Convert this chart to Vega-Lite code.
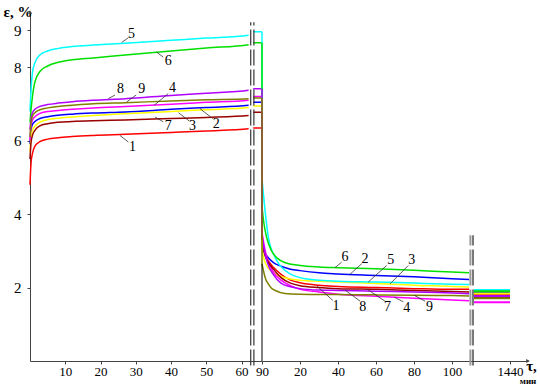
{
 "$schema": "https://vega.github.io/schema/vega-lite/v6.json",
 "width": 500, "height": 349,
 "autosize": "none",
 "padding": {"left": 30, "top": 12, "right": 10, "bottom": 25},
 "background": "white",
 "config": {
  "view": {"stroke": null},
  "axis": {"labelFont": "Liberation Serif", "labelFontSize": 13, "labelColor": "#000", "domainColor": "#444", "tickColor": "#444", "tickSize": 3, "labelPadding": 1, "grid": false, "titleFont": "Liberation Serif", "titleColor": "#000"}
 },
 "datasets": {
  "load": [
   {"s":"1","t":0,"e":4.8},{"s":"1","t":0.3,"e":5.4},{"s":"1","t":0.7,"e":5.65},{"s":"1","t":1.4,"e":5.85},{"s":"1","t":2.8,"e":5.97},{"s":"1","t":5,"e":6.04},{"s":"1","t":8,"e":6.08},{"s":"1","t":12,"e":6.11},{"s":"1","t":18,"e":6.14},{"s":"1","t":27,"e":6.17},{"s":"1","t":40,"e":6.22},{"s":"1","t":50,"e":6.26},{"s":"1","t":62,"e":6.32},{"s":"1","t":63.3,"e":6.34},{"s":"1","t":65.8,"e":6.34},
   {"s":"2","t":0,"e":5.9},{"s":"2","t":0.3,"e":6.3},{"s":"2","t":0.7,"e":6.44},{"s":"2","t":1.4,"e":6.52},{"s":"2","t":2.8,"e":6.6},{"s":"2","t":5,"e":6.65},{"s":"2","t":8,"e":6.69},{"s":"2","t":12,"e":6.72},{"s":"2","t":18,"e":6.75},{"s":"2","t":27,"e":6.78},{"s":"2","t":40,"e":6.85},{"s":"2","t":50,"e":6.9},{"s":"2","t":62,"e":6.96},{"s":"2","t":63.3,"e":7.04},{"s":"2","t":65.8,"e":7.04},
   {"s":"3","t":0,"e":5.7},{"s":"3","t":0.3,"e":6.1},{"s":"3","t":0.7,"e":6.28},{"s":"3","t":1.4,"e":6.39},{"s":"3","t":2.8,"e":6.5},{"s":"3","t":5,"e":6.57},{"s":"3","t":8,"e":6.61},{"s":"3","t":12,"e":6.64},{"s":"3","t":18,"e":6.68},{"s":"3","t":27,"e":6.73},{"s":"3","t":40,"e":6.79},{"s":"3","t":50,"e":6.84},{"s":"3","t":62,"e":6.9},{"s":"3","t":63.3,"e":6.94},{"s":"3","t":65.8,"e":6.94},
   {"s":"4","t":0,"e":6.0},{"s":"4","t":0.3,"e":6.4},{"s":"4","t":0.7,"e":6.56},{"s":"4","t":1.4,"e":6.65},{"s":"4","t":2.8,"e":6.74},{"s":"4","t":5,"e":6.79},{"s":"4","t":8,"e":6.82},{"s":"4","t":12,"e":6.85},{"s":"4","t":18,"e":6.89},{"s":"4","t":27,"e":6.93},{"s":"4","t":40,"e":6.99},{"s":"4","t":50,"e":7.04},{"s":"4","t":62,"e":7.1},{"s":"4","t":63.3,"e":7.2},{"s":"4","t":65.8,"e":7.2},
   {"s":"5","t":0,"e":6.8},{"s":"5","t":0.3,"e":7.4},{"s":"5","t":0.7,"e":7.85},{"s":"5","t":1.4,"e":8.12},{"s":"5","t":2.8,"e":8.33},{"s":"5","t":5,"e":8.44},{"s":"5","t":8,"e":8.51},{"s":"5","t":12,"e":8.56},{"s":"5","t":18,"e":8.6},{"s":"5","t":27,"e":8.65},{"s":"5","t":40,"e":8.73},{"s":"5","t":50,"e":8.79},{"s":"5","t":62,"e":8.87},{"s":"5","t":63.3,"e":8.96},{"s":"5","t":65.8,"e":8.96},
   {"s":"6","t":0,"e":6.5},{"s":"6","t":0.3,"e":6.85},{"s":"6","t":0.7,"e":7.2},{"s":"6","t":1.4,"e":7.6},{"s":"6","t":2.8,"e":7.88},{"s":"6","t":5,"e":8.03},{"s":"6","t":8,"e":8.13},{"s":"6","t":12,"e":8.2},{"s":"6","t":18,"e":8.25},{"s":"6","t":27,"e":8.33},{"s":"6","t":40,"e":8.44},{"s":"6","t":50,"e":8.52},{"s":"6","t":62,"e":8.61},{"s":"6","t":63.3,"e":8.66},{"s":"6","t":65.8,"e":8.66},
   {"s":"7","t":0,"e":5.5},{"s":"7","t":0.3,"e":5.95},{"s":"7","t":0.7,"e":6.14},{"s":"7","t":1.4,"e":6.28},{"s":"7","t":2.8,"e":6.4},{"s":"7","t":5,"e":6.46},{"s":"7","t":8,"e":6.5},{"s":"7","t":12,"e":6.52},{"s":"7","t":18,"e":6.54},{"s":"7","t":27,"e":6.56},{"s":"7","t":40,"e":6.6},{"s":"7","t":50,"e":6.63},{"s":"7","t":62,"e":6.68},{"s":"7","t":63.3,"e":6.77},{"s":"7","t":65.8,"e":6.77},
   {"s":"8","t":0,"e":6.3},{"s":"8","t":0.3,"e":6.6},{"s":"8","t":0.7,"e":6.76},{"s":"8","t":1.4,"e":6.85},{"s":"8","t":2.8,"e":6.93},{"s":"8","t":5,"e":6.98},{"s":"8","t":8,"e":7.02},{"s":"8","t":12,"e":7.06},{"s":"8","t":18,"e":7.1},{"s":"8","t":27,"e":7.14},{"s":"8","t":40,"e":7.23},{"s":"8","t":50,"e":7.29},{"s":"8","t":62,"e":7.37},{"s":"8","t":63.3,"e":7.41},{"s":"8","t":65.8,"e":7.41},
   {"s":"9","t":0,"e":6.1},{"s":"9","t":0.3,"e":6.5},{"s":"9","t":0.7,"e":6.66},{"s":"9","t":1.4,"e":6.76},{"s":"9","t":2.8,"e":6.84},{"s":"9","t":5,"e":6.89},{"s":"9","t":8,"e":6.93},{"s":"9","t":12,"e":6.96},{"s":"9","t":18,"e":7.0},{"s":"9","t":27,"e":7.03},{"s":"9","t":40,"e":7.08},{"s":"9","t":50,"e":7.11},{"s":"9","t":62,"e":7.14},{"s":"9","t":63.3,"e":7.16},{"s":"9","t":65.8,"e":7.16}
  ],
  "drops": [
   {"s":"1","t":0,"lo":3.25,"hi":6.34},{"s":"2","t":0,"lo":3.2,"hi":7.04},{"s":"3","t":0,"lo":3.0,"hi":6.94},
   {"s":"4","t":0,"lo":3.5,"hi":7.2},{"s":"5","t":0,"lo":4.96,"hi":8.96},{"s":"6","t":0,"lo":4.2,"hi":8.66},
   {"s":"7","t":0,"lo":3.3,"hi":6.77},{"s":"8","t":0,"lo":3.4,"hi":7.41},{"s":"9","t":0,"lo":2.65,"hi":7.16}
  ],
  "recov": [
   {"s":"1","t":0,"e":3.25},{"s":"1","t":1.5,"e":2.9},{"s":"1","t":3,"e":2.75},{"s":"1","t":6,"e":2.55},{"s":"1","t":10,"e":2.36},{"s":"1","t":15,"e":2.2},{"s":"1","t":20,"e":2.13},{"s":"1","t":30,"e":2.06},{"s":"1","t":40,"e":2.03},{"s":"1","t":60,"e":2.0},{"s":"1","t":80,"e":1.97},{"s":"1","t":100,"e":1.95},{"s":"1","t":109,"e":1.95},
   {"s":"2","t":0,"e":3.2},{"s":"2","t":1.5,"e":2.95},{"s":"2","t":3,"e":2.83},{"s":"2","t":6,"e":2.68},{"s":"2","t":10,"e":2.58},{"s":"2","t":15,"e":2.5},{"s":"2","t":20,"e":2.46},{"s":"2","t":30,"e":2.4},{"s":"2","t":40,"e":2.37},{"s":"2","t":60,"e":2.33},{"s":"2","t":80,"e":2.29},{"s":"2","t":100,"e":2.24},{"s":"2","t":109,"e":2.22},
   {"s":"3","t":0,"e":3.0},{"s":"3","t":1.5,"e":2.7},{"s":"3","t":3,"e":2.55},{"s":"3","t":6,"e":2.4},{"s":"3","t":10,"e":2.3},{"s":"3","t":15,"e":2.23},{"s":"3","t":20,"e":2.2},{"s":"3","t":30,"e":2.17},{"s":"3","t":40,"e":2.15},{"s":"3","t":60,"e":2.11},{"s":"3","t":80,"e":2.06},{"s":"3","t":100,"e":2.03},{"s":"3","t":109,"e":2.01},
   {"s":"4","t":0,"e":3.5},{"s":"4","t":1.5,"e":3.05},{"s":"4","t":3,"e":2.75},{"s":"4","t":6,"e":2.42},{"s":"4","t":10,"e":2.2},{"s":"4","t":15,"e":2.05},{"s":"4","t":20,"e":1.95},{"s":"4","t":30,"e":1.88},{"s":"4","t":40,"e":1.82},{"s":"4","t":60,"e":1.76},{"s":"4","t":80,"e":1.71},{"s":"4","t":100,"e":1.66},{"s":"4","t":109,"e":1.64},
   {"s":"5","t":0,"e":4.96},{"s":"5","t":1.6,"e":4.1},{"s":"5","t":3.3,"e":3.38},{"s":"5","t":6.8,"e":2.83},{"s":"5","t":12,"e":2.47},{"s":"5","t":22.6,"e":2.24},{"s":"5","t":40,"e":2.17},{"s":"5","t":60,"e":2.15},{"s":"5","t":80,"e":2.12},{"s":"5","t":100,"e":2.09},{"s":"5","t":109,"e":2.08},
   {"s":"6","t":0,"e":4.2},{"s":"6","t":1,"e":3.75},{"s":"6","t":2.5,"e":3.35},{"s":"6","t":5,"e":3.0},{"s":"6","t":8,"e":2.8},{"s":"6","t":12,"e":2.68},{"s":"6","t":20,"e":2.6},{"s":"6","t":30,"e":2.56},{"s":"6","t":40,"e":2.54},{"s":"6","t":60,"e":2.51},{"s":"6","t":80,"e":2.47},{"s":"6","t":100,"e":2.42},{"s":"6","t":109,"e":2.4},
   {"s":"7","t":0,"e":3.3},{"s":"7","t":1.5,"e":2.9},{"s":"7","t":3,"e":2.72},{"s":"7","t":6,"e":2.5},{"s":"7","t":10,"e":2.27},{"s":"7","t":15,"e":2.12},{"s":"7","t":20,"e":2.05},{"s":"7","t":30,"e":2.0},{"s":"7","t":40,"e":1.97},{"s":"7","t":60,"e":1.95},{"s":"7","t":80,"e":1.92},{"s":"7","t":100,"e":1.89},{"s":"7","t":109,"e":1.88},
   {"s":"8","t":0,"e":3.4},{"s":"8","t":1.5,"e":2.95},{"s":"8","t":3,"e":2.65},{"s":"8","t":6,"e":2.35},{"s":"8","t":10,"e":2.12},{"s":"8","t":15,"e":2.02},{"s":"8","t":20,"e":1.97},{"s":"8","t":30,"e":1.93},{"s":"8","t":40,"e":1.92},{"s":"8","t":60,"e":1.9},{"s":"8","t":80,"e":1.88},{"s":"8","t":100,"e":1.85},{"s":"8","t":109,"e":1.83},
   {"s":"9","t":0,"e":2.65},{"s":"9","t":0.7,"e":2.47},{"s":"9","t":2,"e":2.22},{"s":"9","t":3.3,"e":2.1},{"s":"9","t":5,"e":1.98},{"s":"9","t":7,"e":1.92},{"s":"9","t":12,"e":1.84},{"s":"9","t":20,"e":1.82},{"s":"9","t":40,"e":1.81},{"s":"9","t":60,"e":1.8},{"s":"9","t":80,"e":1.79},{"s":"9","t":100,"e":1.78},{"s":"9","t":109,"e":1.77}
  ],
  "late": [
   {"s":"1","t":1404,"e":1.8},{"s":"1","t":1440,"e":1.8},
   {"s":"2","t":1404,"e":1.87},{"s":"2","t":1440,"e":1.87},
   {"s":"3","t":1404,"e":1.84},{"s":"3","t":1440,"e":1.84},
   {"s":"4","t":1404,"e":1.6},{"s":"4","t":1440,"e":1.6},
   {"s":"5","t":1404,"e":1.93},{"s":"5","t":1440,"e":1.93},
   {"s":"6","t":1404,"e":1.9},{"s":"6","t":1440,"e":1.9},
   {"s":"7","t":1404,"e":1.74},{"s":"7","t":1440,"e":1.74},
   {"s":"8","t":1404,"e":1.77},{"s":"8","t":1440,"e":1.77},
   {"s":"9","t":1404,"e":1.71},{"s":"9","t":1440,"e":1.71}
  ],
  "lab1": [
   {"n":"5","t":28.8,"e":8.91},{"n":"6","t":39.2,"e":8.16},{"n":"8","t":25.7,"e":7.41},{"n":"9","t":31.7,"e":7.41},{"n":"4","t":40.4,"e":7.43},
   {"n":"2","t":52.8,"e":6.44},{"n":"3","t":46.1,"e":6.39},{"n":"7","t":39.2,"e":6.39},{"n":"1","t":29.1,"e":5.82}
  ],
  "lead1": [
   {"t1":27.9,"e1":8.8,"t2":26.0,"e2":8.67},{"t1":37.8,"e1":8.27,"t2":35.9,"e2":8.41},{"t1":24.1,"e1":7.24,"t2":22.2,"e2":7.14},
   {"t1":30.1,"e1":7.24,"t2":27.4,"e2":7.05},{"t1":39.2,"e1":7.28,"t2":35.2,"e2":6.96},{"t1":51.8,"e1":6.6,"t2":48.2,"e2":6.87},
   {"t1":45.2,"e1":6.53,"t2":42.1,"e2":6.76},{"t1":37.8,"e1":6.51,"t2":35.5,"e2":6.64},{"t1":27.9,"e1":5.96,"t2":25.5,"e2":6.14}
  ],
  "lab2": [
   {"n":"6","t":43.7,"e":2.83},{"n":"2","t":54.2,"e":2.79},{"n":"5","t":67.7,"e":2.76},{"n":"3","t":78.8,"e":2.74},
   {"n":"1","t":38.9,"e":1.49},{"n":"8","t":53,"e":1.47},{"n":"7","t":66,"e":1.47},{"n":"4","t":76.2,"e":1.43},{"n":"9","t":88.1,"e":1.47}
  ],
  "lead2": [
   {"t1":41.9,"e1":2.69,"t2":38.4,"e2":2.54},{"t1":52.5,"e1":2.65,"t2":46.3,"e2":2.36},{"t1":65.6,"e1":2.6,"t2":55.9,"e2":2.15},
   {"t1":77.0,"e1":2.6,"t2":67.4,"e2":2.1},{"t1":37.2,"e1":1.65,"t2":28.8,"e2":2.05},{"t1":51.6,"e1":1.63,"t2":43.7,"e2":1.93},
   {"t1":64.7,"e1":1.63,"t2":55.1,"e2":1.96},{"t1":74.4,"e1":1.61,"t2":69.5,"e2":1.74},{"t1":85.8,"e1":1.63,"t2":80,"e2":1.79}
  ]
 },
 "layer": [
  {
   "layer": [
    {
     "data": {"name": "load"},
     "mark": {"type": "line", "strokeWidth": 1.5, "interpolate": "monotone"},
     "encoding": {
      "x": {"field": "t", "type": "quantitative", "scale": {"domain": [0, 65.8], "range": [0, 232], "nice": false, "zero": false},
            "axis": {"values": [10, 20, 30, 40, 50, 60], "title": null, "labelFlush": false, "labelFont": "Liberation Serif", "labelFontSize": 13}},
      "y": {"field": "e", "type": "quantitative", "scale": {"domain": [0, 9.5], "nice": false},
            "axis": {"values": [2, 4, 6, 8, 9], "labelFont": "Liberation Serif", "labelFontSize": 15, "labelPadding": 6, "title": "ε, %", "titleFont": "Liberation Serif", "titleAngle": 0, "titleX": -27, "titleY": 4, "titleAlign": "left", "titleBaseline": "alphabetic", "titleFontSize": 15, "titleFontWeight": "bold"}},
      "color": {"field": "s", "type": "nominal", "scale": {"domain": ["1","2","3","4","5","6","7","8","9"], "range": ["#ff0000","#0000ff","#ffff00","#ff00ff","#00ffff","#00e000","#990000","#b000ff","#808000"]}, "legend": null}
     }
    },
    {
     "data": {"values": [{"a": 62.0, "b": 63.3, "lo": 0.04, "hi": 9.4}]},
     "mark": {"type": "rect", "color": "white"},
     "encoding": {"x": {"field": "a", "type": "quantitative"}, "x2": {"field": "b"}, "y": {"field": "lo", "type": "quantitative"}, "y2": {"field": "hi"}}
    },
    {
     "data": {"values": [{"t": 62.6, "lo": -0.12, "hi": 9.22}, {"t": 63.5, "lo": -0.12, "hi": 9.22}]},
     "mark": {"type": "rule", "color": "#333", "strokeWidth": 1.2, "strokeDash": [16, 4]},
     "encoding": {"x": {"field": "t", "type": "quantitative"}, "y": {"field": "lo", "type": "quantitative"}, "y2": {"field": "hi"}}
    },
    {
     "data": {"name": "lead1"},
     "mark": {"type": "rule", "color": "#333", "strokeWidth": 0.8},
     "encoding": {"x": {"field": "t1", "type": "quantitative"}, "y": {"field": "e1", "type": "quantitative"}, "x2": {"field": "t2"}, "y2": {"field": "e2"}}
    },
    {
     "data": {"name": "lab1"},
     "mark": {"type": "text", "font": "Liberation Serif", "fontSize": 14, "color": "#000"},
     "encoding": {"x": {"field": "t", "type": "quantitative"}, "y": {"field": "e", "type": "quantitative"}, "text": {"field": "n"}}
    },
    {
     "data": {"values": [{"t": 0, "e": 9.5}]},
     "mark": {"type": "point", "shape": "triangle-up", "filled": true, "size": 18, "color": "#444", "opacity": 1},
     "encoding": {"x": {"field": "t", "type": "quantitative"}, "y": {"field": "e", "type": "quantitative"}}
    }
   ]
  },
  {
   "layer": [
    {
     "data": {"name": "recov"},
     "mark": {"type": "line", "strokeWidth": 1.5, "interpolate": "monotone"},
     "encoding": {
      "x": {"field": "t", "type": "quantitative", "scale": {"domain": [0, 110.5], "range": [232, 442], "nice": false, "zero": false},
            "axis": {"orient": "bottom", "values": [0, 20, 40, 60, 80, 100], "labelExpr": "datum.value == 0 ? '90' : datum.label", "labelFlush": false, "labelFont": "Liberation Serif", "labelFontSize": 13, "title": "мин", "titleFont": "Liberation Serif", "titleX": 497.5, "titleY": 22.5, "titleAlign": "center", "titleBaseline": "alphabetic", "titleFontSize": 9, "titleFontWeight": "bold"}},
      "y": {"field": "e", "type": "quantitative", "scale": {"domain": [0, 9.5], "nice": false}},
      "color": {"field": "s", "type": "nominal", "legend": null}
     }
    },
    {
     "data": {"name": "drops"},
     "mark": {"type": "rule", "strokeWidth": 1.5},
     "encoding": {"x": {"field": "t", "type": "quantitative"}, "y": {"field": "lo", "type": "quantitative"}, "y2": {"field": "hi"}, "color": {"field": "s", "type": "nominal", "legend": null}}
    },
    {
     "data": {"values": [{"t": 0, "lo": 0, "hi": 2.65}]},
     "mark": {"type": "rule", "color": "#000", "strokeWidth": 1},
     "encoding": {"x": {"field": "t", "type": "quantitative"}, "y": {"field": "lo", "type": "quantitative"}, "y2": {"field": "hi"}}
    },
    {
     "data": {"name": "lead2"},
     "mark": {"type": "rule", "color": "#333", "strokeWidth": 0.8},
     "encoding": {"x": {"field": "t1", "type": "quantitative"}, "y": {"field": "e1", "type": "quantitative"}, "x2": {"field": "t2"}, "y2": {"field": "e2"}}
    },
    {
     "data": {"name": "lab2"},
     "mark": {"type": "text", "font": "Liberation Serif", "fontSize": 14, "color": "#000"},
     "encoding": {"x": {"field": "t", "type": "quantitative"}, "y": {"field": "e", "type": "quantitative"}, "text": {"field": "n"}}
    }
   ]
  },
  {
   "layer": [
    {
     "data": {"name": "late"},
     "mark": {"type": "line", "strokeWidth": 2},
     "encoding": {
      "x": {"field": "t", "type": "quantitative", "scale": {"domain": [1402, 1458], "range": [442, 498], "nice": false, "zero": false},
            "axis": {"orient": "bottom", "values": [1440], "format": "d", "labelFlush": false, "labelFont": "Liberation Serif", "labelFontSize": 13, "title": "τ,", "titleFont": "Liberation Serif", "titleX": 501, "titleY": 9, "titleAlign": "center", "titleBaseline": "alphabetic", "titleFontSize": 15, "titleFontWeight": "bold"}},
      "y": {"field": "e", "type": "quantitative", "scale": {"domain": [0, 9.5], "nice": false}},
      "color": {"field": "s", "type": "nominal", "legend": null}
     }
    },
    {
     "data": {"values": [{"t": 1400.4, "lo": -0.12, "hi": 3.42}]},
     "mark": {"type": "rule", "color": "#999", "strokeWidth": 2, "strokeDash": [16, 4]},
     "encoding": {"x": {"field": "t", "type": "quantitative"}, "y": {"field": "lo", "type": "quantitative"}, "y2": {"field": "hi"}}
    },
    {
     "data": {"values": [{"t": 1403, "lo": -0.12, "hi": 3.42}]},
     "mark": {"type": "rule", "color": "#222", "strokeWidth": 1.2, "strokeDash": [16, 4]},
     "encoding": {"x": {"field": "t", "type": "quantitative"}, "y": {"field": "lo", "type": "quantitative"}, "y2": {"field": "hi"}}
    },
    {
     "data": {"values": [{"t": 1458, "e": 0}]},
     "mark": {"type": "point", "shape": "triangle-right", "filled": true, "size": 18, "color": "#444", "opacity": 1},
     "encoding": {"x": {"field": "t", "type": "quantitative"}, "y": {"field": "e", "type": "quantitative"}}
    }
   ]
  }
 ],
 "resolve": {"scale": {"x": "independent"}, "axis": {"x": "independent"}}
}
